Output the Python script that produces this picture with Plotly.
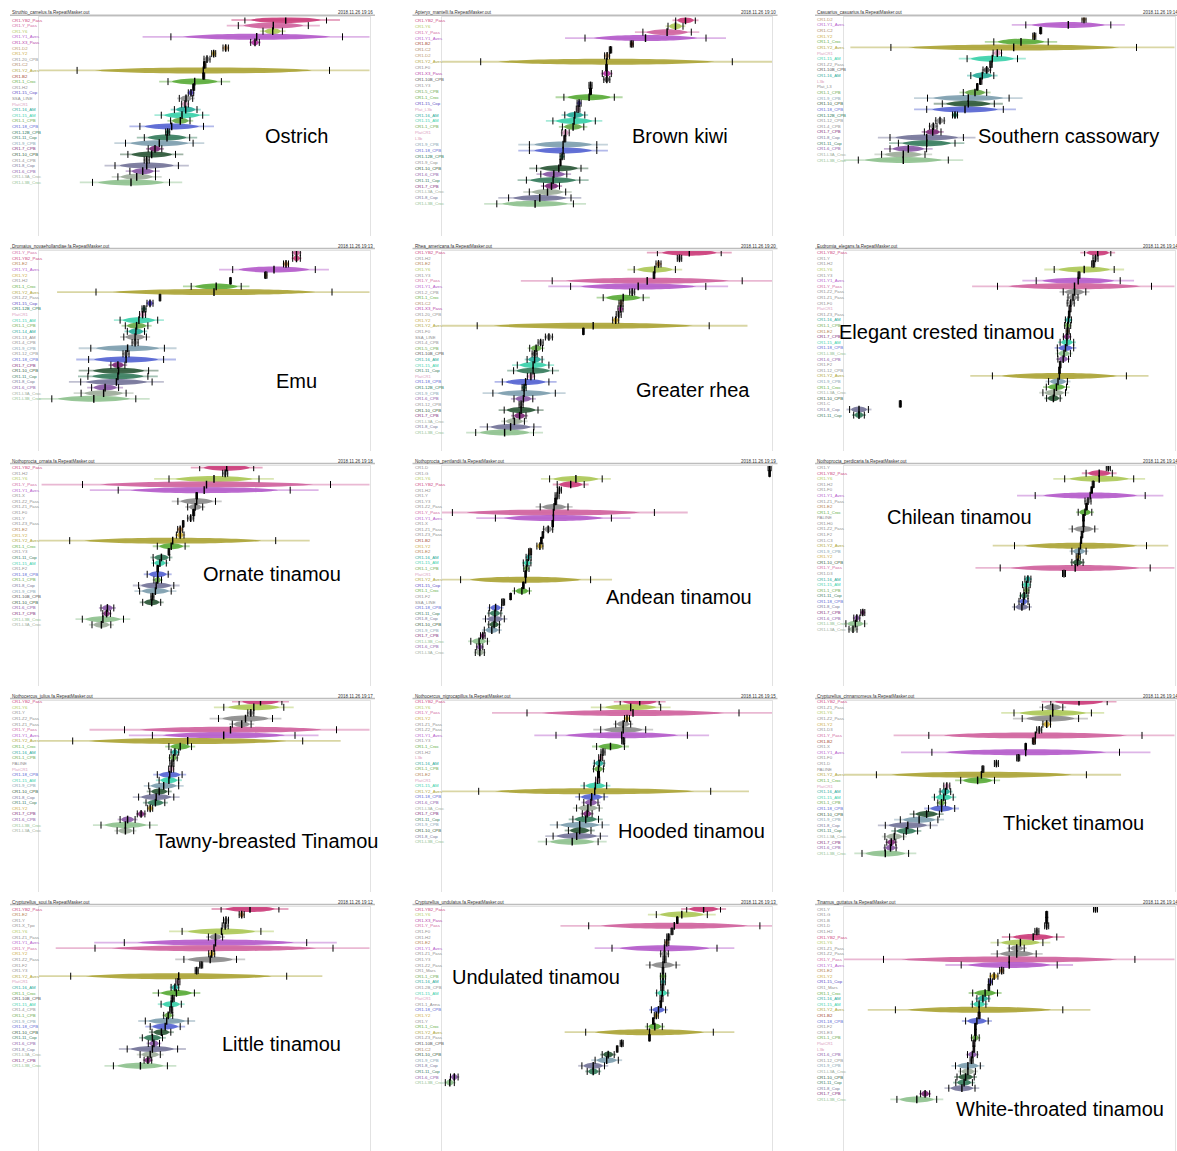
import plotly.graph_objects as go

FIG_W, FIG_H = 1177, 1151

# ---------------------------------------------------------------------------
# Per-genome repeat-family divergence summaries (center and spread, arbitrary
# divergence units). Rows are listed top to bottom as they appear in each panel.
# ---------------------------------------------------------------------------
ostrich_families = ["CR1-YB2_Pass", "CR1-Y_Pass", "CR1-Y6", "CR1-Y1_Aves", "CR1-X3_Pass", "CR1-D2", "CR1-Y2",
                    "CR1-20_CPB", "CR1-C2", "CR1-Y2_Aves", "CR1-B2", "CR1-1_Croc", "CR1-H2", "CR1-15_Cop",
                    "SSA_LINE", "PlatCR1", "CR1-16_AM", "CR1-15_AM", "CR1-1_CPB", "CR1-18_CPB", "CR1-12B_CPB",
                    "CR1-11_Cop", "CR1-9_CPB", "CR1-7_CPB", "CR1-10_CPB", "CR1-4_CPB", "CR1-8_Cop", "CR1-6_CPB",
                    "CR1-L3A_Croc", "CR1-L3B_Croc"]
ostrich_center = [246.7, 234.3, 233.7, 217.7, 216, 186.7, 174.7, 168, 165.7, 164.3, 164.7, 155.7, 154.7, 152,
                  147, 146, 146.7, 143, 141.3, 132.7, 128.7, 128, 120.3, 116, 112.7, 107.7, 107.7, 103.7, 97.7, 92]
ostrich_spread = [40.8, 35, 9.7, 85.8, 4.3, 2.7, 2, 3, 1.2, 126.2, 1, 26.7, 1, 2.7, 6.7, 3.3, 11.3, 20.7, 9.7,
                  31.8, 2, 22.7, 33.8, 6.8, 23.8, 2.5, 31.7, 12.8, 18.8, 38.5]

kiwi_families = ["CR1-YB2_Pass", "CR1-Y6", "CR1-Y_Pass", "CR1-Y1_Aves", "CR1-B2", "CR1-C2", "CR1-D2", "CR1-Y2_Aves",
                 "CR1-F0", "CR1-X3_Pass", "CR1-10B_CPB", "CR1-Y3", "CR1-5_CPB", "CR1-1_Croc", "CR1-15_Cop",
                 "Plat_L3b", "CR1-16_AM", "CR1-15_AM", "CR1-1_CPB", "PlatCR1", "L3b", "CR1-9_CPB", "CR1-18_CPB",
                 "CR1-12B_CPB", "CR1-9_Cop", "CR1-10_CPB", "CR1-6_CPB", "CR1-11_Cop", "CR1-7_CPB", "CR1-L3A_Croc",
                 "CR1-8_Cop", "CR1-L3B_Croc"]
kiwi_center = [244, 234, 225.6, 204, 190.3, 169, 165.6, 165, 165, 165.3, 165.3, 149, 149, 147.6, 137.6, 136.6,
               133.3, 132.6, 131.6, 124, 123.3, 121.6, 121.6, 120.6, 119, 117.3, 112.3, 111.6, 110, 106, 98.3, 93.6]
kiwi_spread = [9.8, 7.5, 24.2, 60.5, 1.5, 1.2, 2.5, 125.8, 0.8, 4.5, 3, 1.5, 1, 25.2, 2, 1.8, 10, 21.2, 10.7, 3.7,
               1, 33.7, 33.7, 2, 0.5, 22.2, 13, 26.7, 8, 18.2, 31.2, 38.3]

cassowary_families = ["CR1-D2", "CR1-Y1_Aves", "CR1-C2", "CR1-Y2", "CR1-1_Croc", "CR1-Y2_Aves", "PlatCR1",
                      "CR1-15_AM", "CR1-Z2_Pass", "CR1-10B_CPB", "CR1-16_AM", "L3b", "Plat_L3", "CR1-1_CPB",
                      "CR1-9_CPB", "CR1-10_CPB", "CR1-18_CPB", "CR1-12B_CPB", "CR1-12_CPB", "CR1-4_CPB",
                      "CR1-7_CPB", "CR1-8_Cop", "CR1-11_Cop", "CR1-6_CPB", "CR1-L3A_Croc", "CR1-L3B_Croc"]
cassowary_center = [240, 224.3, 196.7, 190.3, 177, 169.7, 153.3, 148.3, 147, 142.7, 138.3, 136.7, 133.3, 131,
                    124.3, 124.3, 121, 111, 96, 89.3, 88.7, 82.7, 82.7, 64.3, 59.3, 59.3]
cassowary_spread = [2, 42.5, 1, 1.5, 27.2, 122.8, 4.2, 25.2, 1.2, 3.7, 11.5, 1.2, 0.8, 11.7, 40.8, 26, 38.3, 2.5,
                    4.2, 3.7, 8.3, 36.7, 28.3, 18.3, 21.7, 45]

emu_families = ["CR1-Y_Pass", "CR1-YB2_Pass", "CR1-E2", "CR1-Y1_Aves", "CR1-Y2", "CR1-H2", "CR1-1_Croc",
                "CR1-Y2_Aves", "CR1-Z2_Pass", "CR1-15_Cop", "CR1-12B_CPB", "PlatCR1", "CR1-15_AM", "CR1-1_CPB",
                "CR1-14_AM", "CR1-13_AM", "CR1-4_CPB", "CR1-9_CPB", "CR1-12_CPB", "CR1-18_CPB", "CR1-7_CPB",
                "CR1-10_CPB", "CR1-11_Cop", "CR1-8_Cop", "CR1-6_CPB", "CR1-L3A_Croc", "CR1-L3B_Croc"]
emu_center = [257.5, 257.5, 247, 235, 226.8, 191.5, 177.2, 175, 121, 111, 105, 103.6, 99.9, 97.6, 96.9, 96.1,
              96.1, 88.6, 87, 87.1, 78.9, 79.6, 78.9, 77.4, 66.1, 64.6, 54.8]
emu_spread = [3.8, 3.8, 2.5, 41.3, 1.2, 0.8, 25, 118, 0.8, 3, 2, 3, 18.8, 11.3, 8.6, 11.3, 3, 36.8, 3, 37.5, 7,
              30, 30, 35.7, 13.5, 22.5, 42]

rhea_families = ["CR1-YB2_Pass", "CR1-H2", "CR1-E2", "CR1-Y6", "CR1-Y3", "CR1-Y_Pass", "CR1-Y1_Aves", "CR1-2_CPB",
                 "CR1-1_Croc", "CR1-C2", "CR1-X3_Pass", "CR1-20_CPB", "CR1-Y2", "CR1-Y2_Aves", "CR1-F0",
                 "SSA_LINE", "CR1-4_CPB", "CR1-5_CPB", "CR1-10B_CPB", "CR1-16_AM", "CR1-15_AM", "CR1-11_Cop",
                 "PlatCR1", "CR1-18_CPB", "CR1-12B_CPB", "CR1-9_CPB", "CR1-6_CPB", "CR1-12_CPB", "CR1-10_CPB",
                 "CR1-7_CPB", "CR1-L3A_Croc", "CR1-8_Cop", "CR1-L3B_Croc"]
rhea_center = [247.8, 238, 217, 213.3, 212.5, 205.7, 196.7, 190.7, 181.7, 179.5, 179, 177.2, 174.2, 151.7,
               141.9, 107.4, 99.1, 94.6, 93.1, 93.1, 91.6, 91.6, 89.4, 84.1, 82.6, 82.6, 81.9, 79.6, 79.6, 78.1,
               72.9, 69.1, 63.1]
rhea_spread = [31.9, 2.2, 2.5, 20.6, 0.8, 95, 67.6, 2.5, 20, 2, 2.5, 2.5, 3, 116, 0.8, 3.5, 2.5, 6.4, 2.5, 7.5,
               15.8, 19.5, 3.5, 23.3, 2, 31.2, 9.4, 2, 16.9, 6.4, 10, 23.3, 28.9]

elegant_families = ["CR1-YB2_Pass", "CR1-Y", "CR1-H2", "CR1-Y6", "CR1-Y3", "CR1-Y1_Aves", "CR1-Y_Pass",
                    "CR1-Z2_Pass", "CR1-Z1_Pass", "CR1-F0", "PlatCR1", "CR1-Z3_Pass", "CR1-16_AM", "CR1-1_CPB",
                    "CR1-E2", "CR1-7_CPB", "CR1-15_AM", "CR1-18_CPB", "CR1-L3B_Croc", "CR1-6_CPB", "CR1-F2",
                    "CR1-12_CPB", "CR1-Y2_Aves", "CR1-9_CPB", "CR1-1_Croc", "CR1-L3A_Croc", "CR1-10_CPB", "CR1-C",
                    "CR1-8_Cop", "CR1-11_Cop"]
elegant_center = [253.7, 251.5, 249.2, 240.2, 235, 234.2, 230.5, 230.5, 229, 226.7, 226, 225.2, 224.4, 223.7,
                  223.7, 222.9, 222.9, 221.5, 220, 219.2, 216.2, 215.5, 215.4, 214, 212.4, 210.2, 209.4, 56.3, 15, 15]
elegant_spread = [13.1, 2.5, 1.5, 30, 1, 42, 77, 11.3, 5, 3.5, 1, 0.8, 3, 3, 1.5, 3.5, 6.8, 8.2, 6.4, 5.3, 0.8,
                  0.8, 67, 9.4, 10.1, 11.3, 6.8, 1, 9.4, 5.3]

ornate_families = ["CR1-YB2_Pass", "CR1-H2", "CR1-Y6", "CR1-Y_Pass", "CR1-Y1_Aves", "CR1-X", "CR1-Z2_Pass",
                   "CR1-Z1_Pass", "CR1-F0", "CR1-Y", "CR1-Z3_Pass", "CR1-E2", "CR1-Y2", "CR1-Y2_Aves", "CR1-1_Croc",
                   "CR1-Y3", "CR1-11_Cop", "CR1-15_AM", "CR1-F2", "CR1-18_CPB", "CR1-1_CPB", "CR1-8_Cop",
                   "CR1-9_CPB", "CR1-10B_CPB", "CR1-10_CPB", "CR1-6_CPB", "CR1-7_CPB", "CR1-L3B_Croc",
                   "CR1-L3A_Croc"]
ornate_center = [187.7, 186.2, 175, 167.5, 165.2, 157.7, 157.7, 156.2, 154.7, 151.7, 144.2, 141.2, 141.2, 133.7,
                 132.2, 129.9, 122.4, 120.9, 118.7, 118.7, 118.7, 117.2, 116.4, 113.4, 112.7, 68.4, 67.6, 63.9, 62.4]
ornate_spread = [27, 2.5, 45, 124, 86, 0.8, 18.8, 7.5, 1, 3, 0.8, 2.5, 3.8, 103, 13.9, 0.8, 8.3, 6.4, 0.8, 10.5,
                 3.8, 17.6, 15.8, 1.5, 9, 6.4, 3.8, 20.6, 9.4]

andean_families = ["CR1-D", "CR1-G", "CR1-Y6", "CR1-YB2_Pass", "CR1-H2", "CR1-Y", "CR1-Y3", "CR1-Z2_Pass",
                   "CR1-Y_Pass", "CR1-Y1_Aves", "CR1-X", "CR1-Z1_Pass", "CR1-Z3_Pass", "CR1-B2", "CR1-Y2", "CR1-E2",
                   "CR1-16_AM", "CR1-15_AM", "CR1-1_CPB", "PlatCR1", "CR1-Y2_Aves", "CR1-15_Cop", "CR1-1_Croc",
                   "CR1-F2", "SSA_LINE", "CR1-18_CPB", "CR1-11_Cop", "CR1-8_Cop", "CR1-10_CPB", "CR1-9_CPB",
                   "CR1-7_CPB", "CR1-L3B_Croc", "CR1-6_CPB", "CR1-L3A_Croc"]
andean_center = [328.1, 328.1, 134.4, 129.2, 117.9, 115.6, 114.2, 112.6, 111.9, 111.9, 111.2, 106.7, 101.4, 99.9,
                 98.4, 88.6, 87.1, 85.6, 84.9, 84.1, 84.1, 81.9, 80.4, 69.1, 61.6, 54.1, 53.4, 53.4, 52.6, 50.3,
                 41.3, 37.6, 38.3, 38.3]
andean_spread = [1.5, 0.8, 26.3, 13.5, 2, 2, 1, 13.9, 101, 58, 0.8, 4.5, 0.8, 0.8, 3, 1.5, 2.5, 3.8, 2.6, 0.8,
                 65, 0.8, 7.5, 0.8, 1.5, 6, 6, 9.4, 5.3, 7.5, 2.3, 8.3, 3, 4.5]

chilean_families = ["CR1-Y", "CR1-YB2_Pass", "CR1-Y6", "CR1-H2", "CR1-F0", "CR1-Y1_Aves", "CR1-Z1_Pass",
                    "CR1-E2", "CR1-1_Croc", "PALINE", "CR1-H0", "CR1-Z2_Pass", "CR1-F2", "CR1-C3", "CR1-Y2_Aves",
                    "CR1-9_CPB", "CR1-Y2", "CR1-10_CPB", "CR1-Y_Pass", "CR1-D3", "CR1-16_AM", "CR1-15_AM",
                    "CR1-1_CPB", "CR1-11_Cop", "CR1-18_CPB", "CR1-8_Cop", "CR1-7_CPB", "CR1-6_CPB",
                    "CR1-L3B_Croc", "CR1-L3A_Croc"]
chilean_center = [264.3, 255.2, 255.2, 249.2, 247.7, 246.2, 244, 242.5, 241, 239.5, 239.5, 239.5, 238, 237.2,
                  236.5, 235, 234.2, 233.5, 231.2, 220, 183.9, 182.4, 182.4, 180.2, 179.5, 177.9, 18.8, 12.8,
                  11.3, 9]
chilean_spread = [2, 13.1, 34.5, 1, 0.8, 55, 3, 0.8, 6.8, 0.8, 0.5, 11.3, 0.8, 0.5, 66, 7.1, 2, 5.6, 75, 1.5, 3,
                  3.8, 2.5, 3.8, 4.5, 7.5, 2, 3, 9.4, 4]

tawny_families = ["CR1-YB2_Pass", "CR1-Y6", "CR1-Y", "CR1-Z2_Pass", "CR1-Z1_Pass", "CR1-Y_Pass", "CR1-Y1_Aves",
                  "CR1-Y2_Aves", "CR1-1_Croc", "CR1-16_AM", "CR1-1_CPB", "PALINE", "PlatCR1", "CR1-18_CPB",
                  "CR1-15_AM", "CR1-9_CPB", "CR1-10_CPB", "CR1-8_Cop", "CR1-11_Cop", "CR1-Y2", "CR1-7_CPB",
                  "CR1-6_CPB", "CR1-L3B_Croc", "CR1-L3A_Croc"]
tawny_center = [221.5, 214.8, 211.8, 206.5, 202.7, 191.5, 184.7, 148.7, 141.2, 135.9, 134.4, 132.9, 132.2, 130.7,
                129.9, 124.7, 120.2, 117.2, 116.4, 111.2, 102.1, 88.6, 86.4, 86.4]
tawny_spread = [21.4, 30, 3, 27, 9.4, 106, 71.3, 115, 11.3, 3.8, 3.8, 2, 2.5, 12.4, 9.8, 15, 9.4, 17.6, 9.4, 2.5,
                3.8, 7.5, 24.4, 8.3]

hooded_families = ["CR1-YB2_Pass", "CR1-Y6", "CR1-Y_Pass", "CR1-Y2", "CR1-Z1_Pass", "CR1-Z2_Pass", "CR1-Y1_Aves",
                   "CR1-Y3", "CR1-1_Croc", "CR1-H2", "L3b", "CR1-16_AM", "CR1-1_CPB", "CR1-E2", "PlatCR1",
                   "CR1-15_AM", "CR1-Y2_Aves", "CR1-18_CPB", "CR1-6_CPB", "CR1-L3A_Croc", "CR1-7_CPB",
                   "CR1-11_Cop", "CR1-9_CPB", "CR1-10_CPB", "CR1-8_Cop", "CR1-L3B_Croc"]
hooded_center = [198.2, 189.2, 191.5, 185.5, 181.7, 181.7, 180.2, 181.7, 169, 161.5, 159.2, 157.7, 157, 157,
                 156.2, 153.9, 153.2, 150.2, 149.4, 146.4, 145.7, 144.2, 138.2, 138.2, 135.2, 130.7]
hooded_spread = [19.5, 30, 106, 2.5, 7.5, 22.5, 65.7, 1.5, 13.9, 2, 2, 4.9, 4.9, 1, 2, 11.3, 116, 12.4, 7.1,
                 11.3, 4.9, 12.8, 22.5, 11.3, 23.6, 25.9]

thicket_families = ["CR1-YB2_Pass", "CR1-Z1_Pass", "CR1-Y6", "CR1-Z2_Pass", "CR1-Y2", "CR1-D3", "CR1-Y_Pass",
                    "CR1-B2", "CR1-X", "CR1-Y1_Aves", "CR1-F0", "CR1-D", "PALINE", "CR1-Y2_Aves", "CR1-1_Croc",
                    "PlatCR1", "CR1-16_AM", "CR1-15_AM", "CR1-1_CPB", "CR1-18_CPB", "CR1-10_CPB", "CR1-9_CPB",
                    "CR1-8_Cop", "CR1-11_Cop", "CR1-L3A_Croc", "CR1-7_CPB", "CR1-6_CPB", "CR1-L3B_Croc"]
thicket_center = [235, 208.7, 208.7, 206.4, 202.7, 195.2, 191.4, 189.9, 181.7, 181.7, 174.2, 152.4, 138.9, 137.4,
                  133.6, 102.8, 101.4, 99.8, 97.6, 97.6, 82.6, 75.1, 63.8, 62.3, 50.3, 47.3, 46.5, 41.3]
thicket_spread = [28.2, 10.1, 38.7, 28.2, 3.8, 2.5, 106.6, 1.5, 0.8, 93.8, 1.5, 2, 1, 105, 16.9, 3, 5.3, 9.4,
                  3.8, 13.1, 12.8, 18.8, 22.5, 11.3, 9.4, 4.5, 5.6, 23.3]

little_families = ["CR1-YB2_Pass", "CR1-E2", "CR1-Y", "CR1-X_Tpo", "CR1-Y6", "CR1-Z1_Pass", "CR1-Y1_Aves",
                   "CR1-Y_Pass", "CR1-Y2", "CR1-Z2_Pass", "CR1-F2", "CR1-Y3", "CR1-Y2_Aves", "PlatCR1",
                   "CR1-16_AM", "CR1-1_Croc", "CR1-10B_CPB", "CR1-15_AM", "CR1-4_CPB", "CR1-1_CPB", "CR1-9_CPB",
                   "CR1-18_CPB", "CR1-10_CPB", "CR1-11_Cop", "CR1-6_CPB", "CR1-8_Cop", "CR1-L3A_Croc",
                   "CR1-7_CPB", "CR1-L3B_Croc"]
little_center = [211, 202.7, 187, 186.2, 182.5, 176.5, 176.5, 175, 172.7, 171.2, 162.2, 157.7, 139.7, 138.9,
                 135.9, 137.4, 133.7, 132.2, 132.2, 129.2, 127.7, 126.2, 122.4, 113.4, 114.9, 113.4, 111.2, 108.9,
                 101.4]
little_spread = [28.9, 2.5, 2.5, 3, 39.4, 7.1, 91.2, 119, 3, 26.3, 1.5, 1.5, 108, 2, 3.8, 18, 1.5, 10.1, 1.5, 4.5,
                 21.4, 15, 9.4, 10.1, 5.6, 25.2, 10.1, 3.8, 27]

undulated_families = ["CR1-YB2_Pass", "CR1-Y6", "CR1-X3_Pass", "CR1-Y_Pass", "CR1-F0", "CR1-H2", "CR1-E2",
                      "CR1-Y1_Aves", "CR1-Z1_Pass", "CR1-Y3", "CR1-Z2_Pass", "CR1_Mars", "CR1-1_CPB", "CR1-16_AM",
                      "CR1-2B_CPB", "CR1-15_AM", "PlatCR1", "CR1-1_Anna", "CR1-18_CPB", "CR1-Y2", "CR1-Y",
                      "CR1-1_Croc", "CR1-Y2_Aves", "CR1-Z3_Pass", "CR1-10B_CPB", "CR1-C2", "CR1-10_CPB",
                      "CR1-9_CPB", "CR1-8_Cop", "CR1-11_Cop", "CR1-6_CPB", "CR1-L3B_Croc"]
undulated_center = [262.1, 240.3, 235.8, 232.8, 230.5, 226.8, 225.3, 223, 223, 223, 221.5, 221.5, 221.5, 221.5,
                    220.8, 220.8, 220, 219.3, 217, 214.8, 211.8, 213.3, 208, 208, 180.2, 175.7, 166.7, 165.2,
                    151.7, 151.7, 12.8, 8.3]
undulated_spread = [16.9, 25.5, 0.8, 85.6, 1, 1.5, 2, 52.5, 3.8, 1.5, 13.1, 0.8, 2.6, 2.3, 1.5, 5.6, 1.5, 0.8,
                    7.1, 2, 0.8, 7.5, 63.8, 0.8, 1.5, 0.8, 6, 11.6, 11.3, 6, 3.8, 4.5]

whitethroat_families = ["CR1-Y", "CR1-G", "CR1-B", "CR1-D", "CR1-H2", "CR1-YB2_Pass", "CR1-Y6", "CR1-Z1_Pass",
                        "CR1-Z2_Pass", "CR1-Y_Pass", "CR1-Y1_Aves", "CR1-E2", "CR1-Y2", "CR1-15_Cop", "CR1_Mars",
                        "CR1-1_Croc", "CR1-16_AM", "CR1-15_AM", "CR1-Y2_Aves", "CR1-B2", "CR1-18_CPB", "CR1-F2",
                        "CR1-E3", "CR1-1_CPB", "PlatCR1", "L3b", "CR1-6_CPB", "CR1-12_CPB", "CR1-9_CPB",
                        "CR1-L3A_Croc", "CR1-10_CPB", "CR1-11_Cop", "CR1-8_Cop", "CR1-7_CPB", "CR1-L3B_Croc"]
whitethroat_center = [251.5, 202.7, 202.7, 202.7, 192.9, 189.2, 176.4, 172.7, 172.7, 165.2, 165.2, 157.7, 150.1,
                      146.4, 144.9, 141.1, 138.9, 135.1, 135.1, 135.1, 132.9, 131.4, 131.4, 131.4, 129.9, 129.9,
                      128.4, 127.6, 123.9, 123.9, 121.6, 120.1, 117.9, 81.1, 72.8]
whitethroat_spread = [2, 1, 1, 2, 2, 23.6, 22.5, 7.5, 19.5, 125.7, 48, 2, 3.8, 2, 0.8, 12.4, 6, 6.8, 83.7, 1,
                      11.3, 0.8, 0.8, 3.8, 1, 0.8, 4.9, 1.5, 12.4, 7.5, 8.6, 8.3, 13.1, 4.5, 19.9]

species_titles = ["Ostrich", "Brown kiwi", "Southern cassowary",
                  "Emu", "Greater rhea", "Elegant crested tinamou",
                  "Ornate tinamou", "Andean tinamou", "Chilean tinamou",
                  "Tawny-breasted Tinamou", "Hooded tinamou", "Thicket tinamou",
                  "Little tinamou", "Undulated tinamou", "White-throated tinamou"]
source_files = ["Struthio_camelus.fa.RepeatMasker.out", "Apteryx_mantelli.fa.RepeatMasker.out",
                "Casuarius_casuarius.fa.RepeatMasker.out",
                "Dromaius_novaehollandiae.fa.RepeatMasker.out", "Rhea_americana.fa.RepeatMasker.out",
                "Eudromia_elegans.fa.RepeatMasker.out",
                "Nothoprocta_ornata.fa.RepeatMasker.out", "Nothoprocta_pentlandii.fa.RepeatMasker.out",
                "Nothoprocta_perdicaria.fa.RepeatMasker.out",
                "Nothocercus_julius.fa.RepeatMasker.out", "Nothocercus_nigrocapillus.fa.RepeatMasker.out",
                "Crypturellus_cinnamomeus.fa.RepeatMasker.out",
                "Crypturellus_soui.fa.RepeatMasker.out", "Crypturellus_undulatus.fa.RepeatMasker.out",
                "Tinamus_guttatus.fa.RepeatMasker.out"]
run_stamps = ["2018.11.26 19:16", "2018.11.26 19:10", "2018.11.26 19:14",
              "2018.11.26 19:13", "2018.11.26 19:20", "2018.11.26 19:14",
              "2018.11.26 19:18", "2018.11.26 19:19", "2018.11.26 19:14",
              "2018.11.26 19:17", "2018.11.26 19:15", "2018.11.26 19:14",
              "2018.11.26 19:12", "2018.11.26 19:13", "2018.11.26 19:14"]

panel_families = [ostrich_families, kiwi_families, cassowary_families, emu_families, rhea_families,
                  elegant_families, ornate_families, andean_families, chilean_families, tawny_families,
                  hooded_families, thicket_families, little_families, undulated_families, whitethroat_families]
panel_centers = [ostrich_center, kiwi_center, cassowary_center, emu_center, rhea_center, elegant_center,
                 ornate_center, andean_center, chilean_center, tawny_center, hooded_center, thicket_center,
                 little_center, undulated_center, whitethroat_center]
panel_spreads = [ostrich_spread, kiwi_spread, cassowary_spread, emu_spread, rhea_spread, elegant_spread,
                 ornate_spread, andean_spread, chilean_spread, tawny_spread, hooded_spread, thicket_spread,
                 little_spread, undulated_spread, whitethroat_spread]

# Family colour scheme
FAMILY_COLORS = {
    "CR1-YB2_Pass": "#cc3f7c", "CR1-Y_Pass": "#d0649e", "CR1-Y6": "#aec95a", "CR1-Y1_Aves": "#b55dcb",
    "CR1-X3_Pass": "#b43aa5", "CR1-Y2_Aves": "#ada538", "CR1-Y2": "#c9a93a", "CR1-D2": "#b8956a",
    "CR1-C2": "#a9825a", "CR1-B2": "#a3442e", "CR1-E2": "#b07a48", "CR1-1_Croc": "#5cad3c",
    "CR1-15_Cop": "#5848bf", "PlatCR1": "#dba2c2", "Plat_L3b": "#dba2c2", "L3b": "#e0a0b8",
    "CR1-16_AM": "#2bab9a", "CR1-15_AM": "#3dd1ab", "CR1-14_AM": "#2bab9a", "CR1-1_CPB": "#69a94b",
    "CR1-5_CPB": "#69a94b", "CR1-18_CPB": "#5866d2", "CR1-12B_CPB": "#27785a", "CR1-11_Cop": "#397e5f",
    "CR1-9_CPB": "#7f9fb0", "CR1-7_CPB": "#7e2e78", "CR1-10_CPB": "#2f5a3b", "CR1-8_Cop": "#76769a",
    "CR1-6_CPB": "#8a5ba6", "CR1-L3A_Croc": "#9eae9b", "CR1-L3B_Croc": "#90c290",
    "CR1-Z1_Pass": "#8d8d8d", "CR1-Z2_Pass": "#8d8d8d", "CR1-Z3_Pass": "#8d8d8d",
    "CR1-10B_CPB": "#555555",
}
DEFAULT_COLOR = "#8f8f8f"

# ---------------------------------------------------------------------------
# Page geometry (pixels)
# ---------------------------------------------------------------------------
COL_LEFT = [39, 441.5, 844]
PLOT_W = 330.5
HEADER_Y = [12.7, 246, 461, 696, 902]
PANEL_BOTTOM = [241, 456, 691, 897, 1151]
FIRST_ROW = [20, 20.3, 19.3, 252.7, 252.7, 252.7, 467.7, 467.7, 467.7, 701.7, 701.7, 701.7, 909, 909, 909]
ROW_STEP = [5.6, 5.92, 5.63, 5.62, 5.62, 5.6, 5.61, 5.6, 5.57, 5.61, 5.6, 5.62, 5.6, 5.6, 5.6]
TITLE_POS = [(296, 136), (680, 136), (1068, 136),
             (296, 381), (693, 390), (947, 332),
             (272, 574), (679, 597), (959, 517),
             (266, 841), (691, 831), (1073, 823),
             (281, 1044), (536, 977), (1060, 1109)]

LENS_HALF_PX = 3.0    # half height of a spindle, pixels
LENS_FRAC = 0.86      # spindle half-length relative to spread
WHISK_FRAC = 1.33     # whisker half-length relative to spread
LABEL_FONT = "Liberation Sans, Arial, sans-serif"


def px(x):
    return x / FIG_W


def py(y):
    return 1 - y / FIG_H


fig = go.Figure()
shapes = []
annotations = []
layout_axes = {}

for i in range(15):
    n = i + 1
    col, row = i % 3, i // 3
    xa, ya = ("x", "y") if n == 1 else (f"x{n}", f"y{n}")
    left = COL_LEFT[col]
    top = HEADER_Y[row] + 4.7
    bottom = PANEL_BOTTOM[row] - 5 if row < 4 else PANEL_BOTTOM[row]
    first, step = FIRST_ROW[i], ROW_STEP[i]

    fams, cen, spr = panel_families[i], panel_centers[i], panel_spreads[i]
    rows = list(range(len(fams)))
    colors = [FAMILY_COLORS.get(f, DEFAULT_COLOR) for f in fams]

    layout_axes["xaxis" if n == 1 else f"xaxis{n}"] = dict(
        domain=[px(left), px(left + PLOT_W)], range=[0, PLOT_W], anchor=ya,
        showline=True, side="top", linecolor="#e2e2e2", linewidth=1,
        showgrid=False, zeroline=False, showticklabels=False, ticks="", fixedrange=True)
    layout_axes["yaxis" if n == 1 else f"yaxis{n}"] = dict(
        domain=[py(bottom), py(top)],
        range=[(bottom - first) / step, (top - first) / step], anchor=xa,
        showline=True, mirror=True, linecolor="#e2e2e2", linewidth=1,
        showgrid=False, zeroline=False, showticklabels=False, ticks="", fixedrange=True)

    hh = LENS_HALF_PX / step * 4.0 / 3.0   # cubic control offset, row units
    for k, (c, w, colr) in enumerate(zip(cen, spr, colors)):
        # whisker
        shapes.append(dict(type="line", xref=xa, yref=ya, x0=c - WHISK_FRAC * w, x1=c + WHISK_FRAC * w,
                           y0=k, y1=k, line=dict(color=colr, width=1.8), opacity=0.45, layer="below"))
        # spindle body: rounded middle, tapering ends
        half = LENS_FRAC * w
        x0, x1 = c - half, c + half
        a0, a1 = c - 0.7 * half, c + 0.7 * half
        path = (f"M {x0},{k} C {a0},{k - hh} {a1},{k - hh} {x1},{k} "
                f"C {a1},{k + hh} {a0},{k + hh} {x0},{k} Z")
        shapes.append(dict(type="path", xref=xa, yref=ya, path=path, fillcolor=colr,
                           line=dict(width=0), opacity=0.92, layer="below"))
        # family label at the left margin
        annotations.append(dict(xref="paper", yref=ya, x=px(left - 29), y=k, xanchor="left",
                                yanchor="middle", text=fams[k], showarrow=False,
                                font=dict(size=4.3, color=colr, family=LABEL_FONT)))

    # outer quantile ticks
    fig.add_trace(go.Scatter(
        x=[c - w for c, w in zip(cen, spr)] + [c + w for c, w in zip(cen, spr)],
        y=rows + rows, mode="markers", xaxis=xa, yaxis=ya, hoverinfo="skip", showlegend=False,
        marker=dict(symbol="line-ns", size=5, color="black", line=dict(width=1, color="black"))))
    # median ticks
    fig.add_trace(go.Scatter(
        x=cen, y=rows, mode="markers", xaxis=xa, yaxis=ya, hoverinfo="skip", showlegend=False,
        marker=dict(symbol="line-ns", size=5.5, color="black", line=dict(width=1.4, color="black"))))

    # header line
    hy = HEADER_Y[row]
    shapes.append(dict(type="line", xref="paper", yref="paper", x0=px(left - 29), x1=px(left + 336),
                       y0=py(hy + 2.6), y1=py(hy + 2.6), line=dict(color="#bdbdbd", width=1.5)))
    annotations.append(dict(xref="paper", yref="paper", x=px(left - 29), y=py(hy), xanchor="left",
                            yanchor="middle", text=source_files[i], showarrow=False,
                            font=dict(size=4.5, color="#333333", family=LABEL_FONT)))
    annotations.append(dict(xref="paper", yref="paper", x=px(left + 336), y=py(hy), xanchor="right",
                            yanchor="middle", text=run_stamps[i], showarrow=False,
                            font=dict(size=4.5, color="#333333", family=LABEL_FONT)))
    tx, ty = TITLE_POS[i]
    annotations.append(dict(xref="paper", yref="paper", x=px(tx), y=py(ty), xanchor="center",
                            yanchor="middle", text=species_titles[i], showarrow=False,
                            font=dict(size=20, color="black", family=LABEL_FONT)))

fig.update_layout(
    width=FIG_W, height=FIG_H, margin=dict(l=0, r=0, t=0, b=0, pad=0),
    paper_bgcolor="white", plot_bgcolor="white", showlegend=False, hovermode=False,
    shapes=shapes, annotations=annotations, **layout_axes)

fig.write_html("out.html")
